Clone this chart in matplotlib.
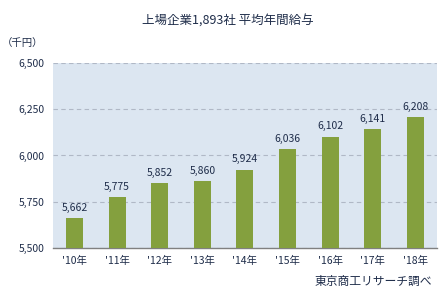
import matplotlib.pyplot as plt
import numpy as np

plt.rcParams['font.family'] = ['Noto Sans CJK JP', 'DejaVu Sans']

years = ["'10年", "'11年", "'12年", "'13年", "'14年", "'15年", "'16年", "'17年", "'18年"]
salary = [5662, 5775, 5852, 5860, 5924, 6036, 6102, 6141, 6208]
yticks = [5500, 5750, 6000, 6250, 6500]

text_color = '#1f2d4a'

fig = plt.figure(figsize=(4.47, 2.99), dpi=100)
ax = fig.add_axes([0.119, 0.171, 0.858, 0.618])
ax.set_facecolor('#dce6f1')

x = np.arange(len(years))
ax.bar(x, salary, width=0.4, color='#84a03e', zorder=3)
for xi, v in zip(x, salary):
    ax.text(xi, v + 28, f'{v:,}', ha='center', va='bottom', fontsize=7.5, color=text_color, zorder=4)

ax.set_ylim(5500, 6500)
ax.set_xlim(-0.5, len(years) - 0.5)
ax.set_yticks(yticks)
ax.set_yticklabels([f'{t:,}' for t in yticks])
ax.set_xticks(x)
ax.set_xticklabels(years)
ax.tick_params(axis='both', length=0, labelsize=7.5, colors=text_color, pad=6)
ax.grid(axis='y', color='#b0b8c6', linestyle=(0, (4, 3)), linewidth=0.8, zorder=1)

for side in ['left', 'right', 'top']:
    ax.spines[side].set_visible(False)
ax.spines['bottom'].set_color('#808080')
ax.spines['bottom'].set_linewidth(1.0)

fig.text(0.51, 0.93, '上場企業1,893社 平均年間給与', ha='center', va='center', fontsize=9, color=text_color)
fig.text(0.005, 0.855, '（千円）', ha='left', va='center', fontsize=7.5, color=text_color)
fig.text(0.966, 0.06, '東京商工リサーチ調べ', ha='right', va='center', fontsize=8.5, color=text_color)

fig.savefig('out.png', dpi=100)
